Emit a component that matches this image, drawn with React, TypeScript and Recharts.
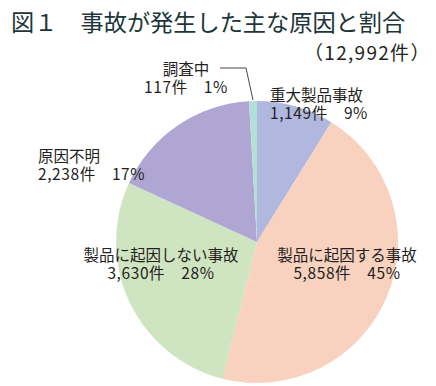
import { PieChart, Pie, Cell } from 'recharts';

const categories = ['重大製品事故', '製品に起因する事故', '製品に起因しない事故', '原因不明', '調査中'];
const counts = [1149, 5858, 3630, 2238, 117];
const colors = ['#b0b8df', '#f8d1bf', '#cfe4c1', '#b0a6d3', '#b3e0d6'];

const title = '図１　事故が発生した主な原因と割合';
const totalLabel = '（12,992件）';

// label placement relative to the pie centre (dx, dy of first baseline, anchor)
const labelLayout = [
  { dx: 13, dy: -141, anchor: 'start' },
  { dx: 90, dy: 19, anchor: 'middle' },
  { dx: -96, dy: 19, anchor: 'middle' },
  { dx: -219, dy: -80, anchor: 'start' },
  { dx: -71, dy: -167, anchor: 'middle' },
];

const FONT = '"Noto Sans CJK JP", "Noto Sans", sans-serif';
const RAD = Math.PI / 180;

const data = categories.map((name, i) => ({ name, value: counts[i] }));

function renderLabel(props: any) {
  const { cx, cy, index, percent, midAngle, outerRadius } = props;
  const pos = labelLayout[index];
  const x = cx + pos.dx;
  const y = cy + pos.dy;
  const pct = Math.round(percent * 100);
  const line2 = `${counts[index].toLocaleString('en-US')}件　${pct}%`;
  let leader = null;
  if (index === 4) {
    const ex = cx + outerRadius * Math.cos(-midAngle * RAD);
    const ey = cy + outerRadius * Math.sin(-midAngle * RAD);
    leader = (
      <polyline
        points={`${x + 34},${y - 7} ${ex - 7},${y - 7} ${ex},${ey - 1}`}
        fill="none"
        stroke="#333"
        strokeWidth={0.9}
      />
    );
  }
  return (
    <g key={`lbl-${index}`}>
      {leader}
      <text x={x} y={y} textAnchor={pos.anchor} fontSize={15.5} fontFamily={FONT} fill="#231f20">
        <tspan x={x}>{categories[index]}</tspan>
        <tspan x={x} dy={18} letterSpacing={0.6}>
          {line2}
        </tspan>
      </text>
    </g>
  );
}

export default function App() {
  return (
    <div style={{ position: 'absolute', left: 0, top: 0, width: 436, height: 386, background: '#fff' }}>
      <div
        style={{
          position: 'absolute',
          left: 11,
          top: 5,
          fontSize: 23.2,
          fontFamily: FONT,
          color: '#1d3638',
          whiteSpace: 'nowrap',
          lineHeight: '32px',
        }}
      >
        {title}
      </div>
      <div
        style={{
          position: 'absolute',
          left: 304,
          top: 37,
          fontSize: 19,
          fontFamily: FONT,
          color: '#231f20',
          whiteSpace: 'nowrap',
          lineHeight: '30px',
          letterSpacing: 1.3,
        }}
      >
        {totalLabel}
      </div>
      <PieChart width={436} height={386}>
        <Pie
          data={data}
          dataKey="value"
          nameKey="name"
          cx={252}
          cy={237}
          outerRadius={141}
          startAngle={90}
          endAngle={-270}
          stroke="none"
          label={renderLabel}
          labelLine={false}
          isAnimationActive={false}
        >
          {data.map((d, i) => (
            <Cell key={d.name} fill={colors[i]} />
          ))}
        </Pie>
      </PieChart>
    </div>
  );
}
